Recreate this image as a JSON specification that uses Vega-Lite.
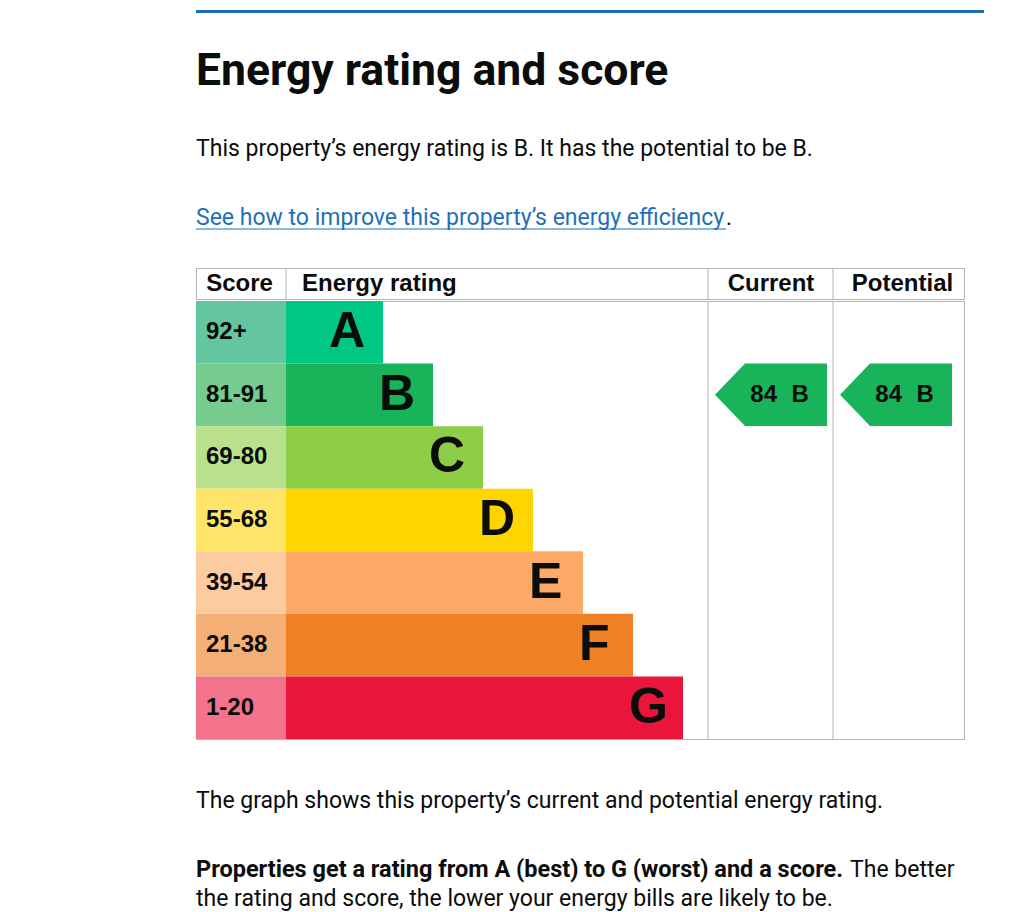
{
  "$schema": "https://vega.github.io/schema/vega-lite/v6.json",
  "padding": {"left": 195, "top": 10, "right": 0, "bottom": 0},
  "background": "white",
  "config": {"view": {"stroke": null}, "font": "Roboto"},
  "datasets": {
    "bands": [
      {"band": "A", "score": "92+", "rank": 1},
      {"band": "B", "score": "81-91", "rank": 2},
      {"band": "C", "score": "69-80", "rank": 3},
      {"band": "D", "score": "55-68", "rank": 4},
      {"band": "E", "score": "39-54", "rank": 5},
      {"band": "F", "score": "21-38", "rank": 6},
      {"band": "G", "score": "1-20", "rank": 7}
    ],
    "ratings": [
      {"type": "Current", "score": 84, "band": "B"},
      {"type": "Potential", "score": 84, "band": "B"}
    ],
    "columns": [
      {"column": "Score"},
      {"column": "Energy rating"},
      {"column": "Current"},
      {"column": "Potential"}
    ],
    "footer": [
      {"line": 1, "part": "bold", "text": "Properties get a rating from A (best) to G (worst) and a score."},
      {"line": 1, "part": "tail", "text": "The better"},
      {"line": 2, "part": "regular", "text": "the rating and score, the lower your energy bills are likely to be."}
    ]
  },
  "spacing": 37,
  "vconcat": [
    {
      "spacing": 45.5,
      "vconcat": [
        {
          "width": 788,
          "height": 3,
          "view": {"fill": "#1d70b8", "stroke": null},
          "title": {
            "text": "Energy rating and score",
            "subtitle": "This property’s energy rating is B. It has the potential to be B.",
            "orient": "bottom",
            "anchor": "start",
            "baseline": "top",
            "offset": 36.5,
            "font": "Roboto",
            "fontSize": 44.5,
            "fontWeight": "bold",
            "color": "#0b0c0c",
            "subtitleFont": "Roboto",
            "subtitleFontSize": 23,
            "subtitleColor": "#0b0c0c",
            "subtitlePadding": 44
          },
          "data": {"values": [{}]},
          "mark": {"type": "text", "fontSize": 0},
          "encoding": {"text": {"value": ""}}
        },
        {
          "width": 530,
          "height": 1,
          "view": {"fill": "#1d70b8", "stroke": null},
          "data": {"values": [{"text": "See how to improve this property’s energy efficiency", "end": "."}]},
          "layer": [
            {
              "mark": {"type": "text", "font": "Roboto", "fontSize": 23, "align": "left", "baseline": "alphabetic", "dy": -4, "color": "#1d70b8"},
              "encoding": {
                "x": {"datum": 0, "type": "quantitative", "scale": {"domain": [0, 530], "nice": false, "zero": false}, "axis": null},
                "text": {"field": "text"}
              }
            },
            {
              "mark": {"type": "text", "font": "Roboto", "fontSize": 23, "align": "left", "baseline": "alphabetic", "dy": -4, "color": "#0b0c0c"},
              "encoding": {
                "x": {"datum": 530, "type": "quantitative"},
                "text": {"field": "end"}
              }
            }
          ]
        }
      ]
    },
    {
      "spacing": 50,
      "vconcat": [
        {
          "spacing": 0,
          "vconcat": [
            {
              "width": 768,
              "height": 31,
              "view": {"stroke": "#b1b4b6", "strokeWidth": 1},
              "data": {"name": "columns"},
              "layer": [
                {
                  "transform": [{"filter": "datum.column === 'Energy rating'"}],
                  "mark": {"type": "rule", "color": "#b1b4b6", "strokeWidth": 1},
                  "encoding": {"x": {"datum": -0.94, "type": "quantitative", "scale": {"domain": [-2.74, 12.62], "nice": false, "zero": false}, "axis": null}}
                },
                {
                  "transform": [{"filter": "datum.column === 'Current'"}],
                  "mark": {"type": "rule", "color": "#b1b4b6", "strokeWidth": 1},
                  "encoding": {"x": {"datum": 7.5, "type": "quantitative"}}
                },
                {
                  "transform": [{"filter": "datum.column === 'Potential'"}],
                  "mark": {"type": "rule", "color": "#b1b4b6", "strokeWidth": 1},
                  "encoding": {"x": {"datum": 10, "type": "quantitative"}}
                },
                {
                  "transform": [{"filter": "datum.column === 'Score'"}],
                  "mark": {"type": "text", "font": "Liberation Sans", "fontSize": 24, "fontWeight": "bold", "align": "center", "baseline": "middle", "color": "#0b0c0c"},
                  "encoding": {"x": {"datum": -1.87, "type": "quantitative"}, "text": {"field": "column"}}
                },
                {
                  "transform": [{"filter": "datum.column === 'Energy rating'"}],
                  "mark": {"type": "text", "font": "Liberation Sans", "fontSize": 24, "fontWeight": "bold", "align": "left", "baseline": "middle", "color": "#0b0c0c"},
                  "encoding": {"x": {"datum": -0.62, "type": "quantitative"}, "text": {"field": "column"}}
                },
                {
                  "transform": [{"filter": "datum.column === 'Current'"}],
                  "mark": {"type": "text", "font": "Liberation Sans", "fontSize": 24, "fontWeight": "bold", "align": "center", "baseline": "middle", "color": "#0b0c0c"},
                  "encoding": {"x": {"datum": 8.76, "type": "quantitative"}, "text": {"field": "column"}}
                },
                {
                  "transform": [{"filter": "datum.column === 'Potential'"}],
                  "mark": {"type": "text", "font": "Liberation Sans", "fontSize": 24, "fontWeight": "bold", "align": "center", "baseline": "middle", "color": "#0b0c0c"},
                  "encoding": {"x": {"datum": 11.39, "type": "quantitative"}, "text": {"field": "column"}}
                }
              ]
            },
            {
              "width": 768,
              "height": 438,
              "view": {"stroke": "#b1b4b6", "strokeWidth": 1},
              "layer": [
                {
                  "data": {"name": "bands"},
                  "mark": {"type": "rect", "opacity": 1},
                  "encoding": {
                    "y": {"field": "band", "type": "nominal", "scale": {"domain": ["A", "B", "C", "D", "E", "F", "G"], "paddingInner": 0, "paddingOuter": 0}, "axis": null},
                    "x": {"datum": -2.74, "type": "quantitative", "scale": {"domain": [-2.74, 12.62], "nice": false, "zero": false}, "axis": null},
                    "x2": {"datum": -0.94},
                    "fill": {"field": "band", "type": "nominal", "scale": {"domain": ["A", "B", "C", "D", "E", "F", "G"], "range": ["#63c6a0", "#76cb8e", "#b9e08d", "#ffe46a", "#fdcba0", "#f4af77", "#f2738a"]}, "legend": null}
                  }
                },
                {
                  "data": {"name": "bands"},
                  "mark": {"type": "rect"},
                  "encoding": {
                    "y": {"field": "band", "type": "nominal"},
                    "x": {"field": "rank", "type": "quantitative"},
                    "x2": {"datum": -0.94},
                    "color": {"field": "band", "type": "nominal", "scale": {"domain": ["A", "B", "C", "D", "E", "F", "G"], "range": ["#00c781", "#19b459", "#8dce46", "#ffd500", "#fcaa65", "#ef8023", "#e9153b"]}, "legend": null}
                  }
                },
                {
                  "data": {"name": "bands"},
                  "mark": {"type": "text", "font": "Liberation Sans", "fontSize": 24, "fontWeight": "bold", "align": "left", "baseline": "middle", "dx": 10, "color": "#0b0c0c"},
                  "encoding": {"y": {"field": "band", "type": "nominal"}, "x": {"datum": -2.74, "type": "quantitative"}, "text": {"field": "score"}}
                },
                {
                  "data": {"name": "bands"},
                  "mark": {"type": "text", "font": "Liberation Sans", "fontSize": 50, "fontWeight": "bold", "align": "left", "baseline": "middle", "dx": -54, "color": "#0b0c0c"},
                  "encoding": {"y": {"field": "band", "type": "nominal"}, "x": {"field": "rank", "type": "quantitative"}, "text": {"field": "band"}}
                },
                {
                  "data": {"name": "ratings"},
                  "transform": [{"filter": "datum.type === 'Current'"}],
                  "mark": {"type": "rule", "color": "#b1b4b6", "strokeWidth": 1},
                  "encoding": {"x": {"datum": 7.5, "type": "quantitative"}}
                },
                {
                  "data": {"name": "ratings"},
                  "transform": [{"filter": "datum.type === 'Potential'"}],
                  "mark": {"type": "rule", "color": "#b1b4b6", "strokeWidth": 1},
                  "encoding": {"x": {"datum": 10, "type": "quantitative"}}
                },
                {
                  "data": {"name": "ratings"},
                  "transform": [{"filter": "datum.type === 'Current'"}],
                  "mark": {"type": "point", "shape": "M-1,0L-0.4643,-0.558L1,-0.558L1,0.558L-0.4643,0.558Z", "filled": true, "size": 12544, "opacity": 1, "strokeWidth": 0},
                  "encoding": {"y": {"field": "band", "type": "nominal"}, "x": {"datum": 8.76, "type": "quantitative"}, "color": {"field": "band", "type": "nominal", "legend": null}}
                },
                {
                  "data": {"name": "ratings"},
                  "transform": [{"filter": "datum.type === 'Potential'"}],
                  "mark": {"type": "point", "shape": "M-1,0L-0.4643,-0.558L1,-0.558L1,0.558L-0.4643,0.558Z", "filled": true, "size": 12544, "opacity": 1, "strokeWidth": 0},
                  "encoding": {"y": {"field": "band", "type": "nominal"}, "x": {"datum": 11.26, "type": "quantitative"}, "color": {"field": "band", "type": "nominal", "legend": null}}
                },
                {
                  "data": {"name": "ratings"},
                  "transform": [{"filter": "datum.type === 'Current'"}],
                  "mark": {"type": "text", "font": "Liberation Sans", "fontSize": 24, "fontWeight": "bold", "align": "left", "baseline": "middle", "dx": -20.7, "color": "#0b0c0c"},
                  "encoding": {"y": {"field": "band", "type": "nominal"}, "x": {"datum": 8.76, "type": "quantitative"}, "text": {"field": "score"}}
                },
                {
                  "data": {"name": "ratings"},
                  "transform": [{"filter": "datum.type === 'Current'"}],
                  "mark": {"type": "text", "font": "Liberation Sans", "fontSize": 24, "fontWeight": "bold", "align": "left", "baseline": "middle", "dx": 20.6, "color": "#0b0c0c"},
                  "encoding": {"y": {"field": "band", "type": "nominal"}, "x": {"datum": 8.76, "type": "quantitative"}, "text": {"field": "band"}}
                },
                {
                  "data": {"name": "ratings"},
                  "transform": [{"filter": "datum.type === 'Potential'"}],
                  "mark": {"type": "text", "font": "Liberation Sans", "fontSize": 24, "fontWeight": "bold", "align": "left", "baseline": "middle", "dx": -20.7, "color": "#0b0c0c"},
                  "encoding": {"y": {"field": "band", "type": "nominal"}, "x": {"datum": 11.26, "type": "quantitative"}, "text": {"field": "score"}}
                },
                {
                  "data": {"name": "ratings"},
                  "transform": [{"filter": "datum.type === 'Potential'"}],
                  "mark": {"type": "text", "font": "Liberation Sans", "fontSize": 24, "fontWeight": "bold", "align": "left", "baseline": "middle", "dx": 20.6, "color": "#0b0c0c"},
                  "encoding": {"y": {"field": "band", "type": "nominal"}, "x": {"datum": 11.26, "type": "quantitative"}, "text": {"field": "band"}}
                }
              ]
            }
          ]
        },
        {
          "width": 768,
          "height": 58,
          "title": {
            "text": "The graph shows this property’s current and potential energy rating.",
            "orient": "top",
            "anchor": "start",
            "baseline": "top",
            "offset": 42,
            "font": "Roboto",
            "fontSize": 23,
            "fontWeight": "normal",
            "color": "#0b0c0c"
          },
          "data": {"name": "footer"},
          "layer": [
            {
              "transform": [{"filter": "datum.part === 'bold'"}],
              "mark": {"type": "text", "font": "Roboto", "fontSize": 23.5, "fontWeight": "bold", "align": "left", "baseline": "alphabetic", "dy": 7, "color": "#0b0c0c"},
              "encoding": {
                "y": {"field": "line", "type": "ordinal", "scale": {"domain": [1, 2], "paddingInner": 0, "paddingOuter": 0}, "axis": null},
                "x": {"datum": 0, "type": "quantitative", "scale": {"domain": [0, 768], "nice": false, "zero": false}, "axis": null},
                "text": {"field": "text"}
              }
            },
            {
              "transform": [{"filter": "datum.part === 'tail'"}],
              "mark": {"type": "text", "font": "Roboto", "fontSize": 23, "fontWeight": "normal", "align": "left", "baseline": "alphabetic", "dy": 7, "color": "#0b0c0c"},
              "encoding": {
                "y": {"field": "line", "type": "ordinal"},
                "x": {"datum": 654, "type": "quantitative"},
                "text": {"field": "text"}
              }
            },
            {
              "transform": [{"filter": "datum.part === 'regular'"}],
              "mark": {"type": "text", "font": "Roboto", "fontSize": 23, "fontWeight": "normal", "align": "left", "baseline": "alphabetic", "dy": 7, "color": "#0b0c0c"},
              "encoding": {
                "y": {"field": "line", "type": "ordinal"},
                "x": {"datum": 0, "type": "quantitative"},
                "text": {"field": "text"}
              }
            }
          ]
        }
      ]
    }
  ]
}
